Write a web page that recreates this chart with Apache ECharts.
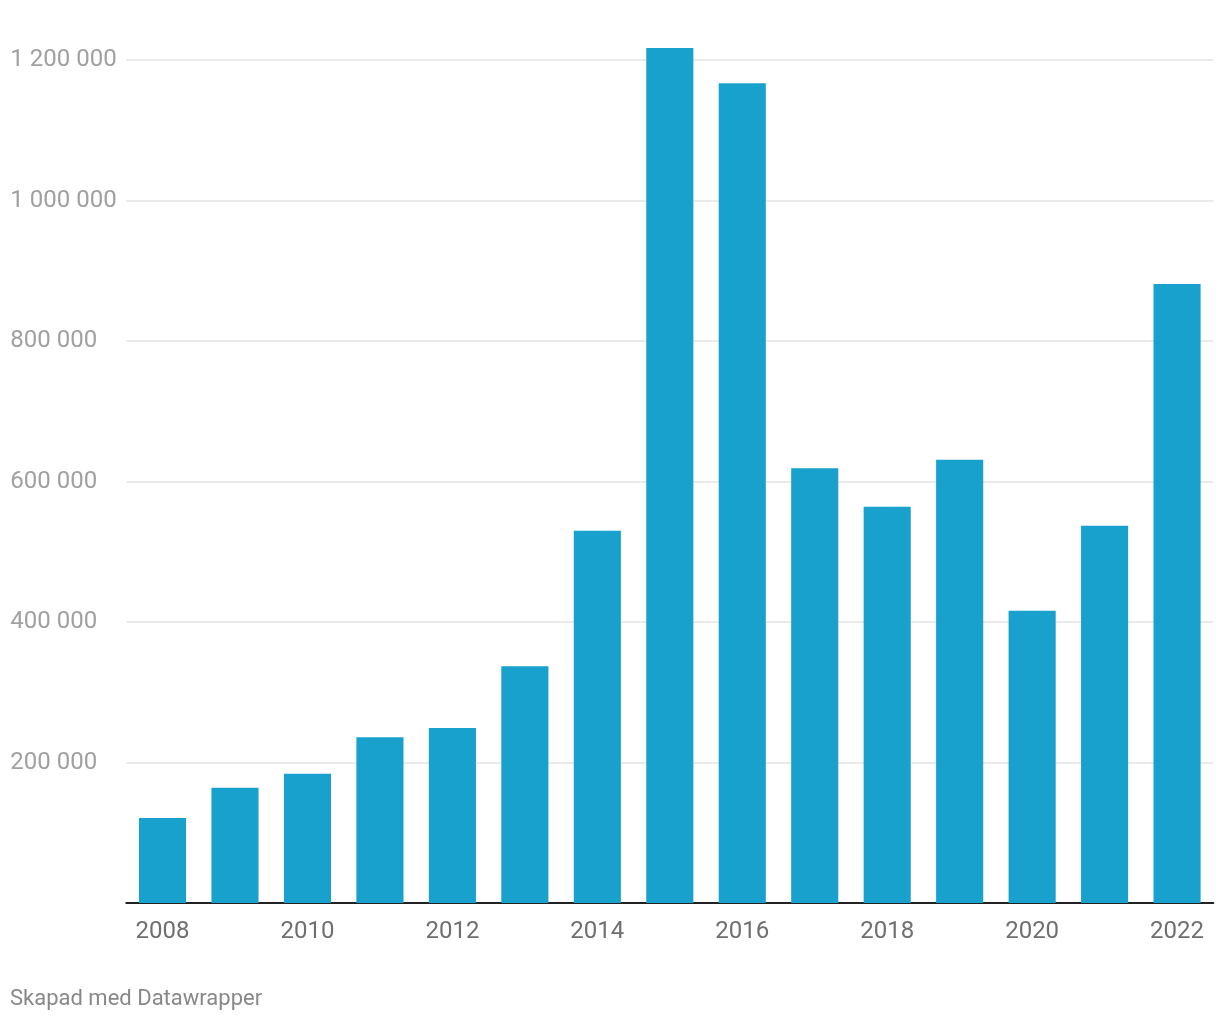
<!DOCTYPE html>
<html>
<head>
<meta charset="utf-8">
<script src="https://cdn.jsdelivr.net/npm/echarts@6/dist/echarts.min.js"></script>
<style>
html,body{margin:0;padding:0;background:#fff;}
#chart{width:1220px;height:1020px;}
</style>
</head>
<body>
<div id="chart"></div>
<script>
const years = ['2008','2009','2010','2011','2012','2013','2014','2015','2016','2017','2018','2019','2020','2021','2022'];
const values = [121000, 164000, 184000, 236000, 249000, 337000, 530000, 1217000, 1167000, 619000, 564000, 631000, 416000, 537000, 881000];
const yTicks = [0, 200000, 400000, 600000, 800000, 1000000, 1200000];
const footer = 'Skapad med Datawrapper';

function fmt(v){
  if (v === 0) return '';
  return String(v).replace(/\B(?=(\d{3})+(?!\d))/g, ' ');
}

const chart = echarts.init(document.getElementById('chart'));
chart.setOption({
  animation: false,
  backgroundColor: '#ffffff',
  textStyle: {fontFamily: 'Roboto'},
  grid: {left: 126.3, right: 6.7, top: 60, bottom: 117, containLabel: false},
  graphic: [{
    type: 'text', left: 10, top: 988,
    style: {text: footer, fill: '#888888', font: '22px Roboto'}
  }],
  xAxis: {
    type: 'category',
    data: years,
    axisLine: {show: true, lineStyle: {color: '#222222', width: 2}},
    axisTick: {show: false},
    axisLabel: {interval: 1, color: '#6f6f6f', fontSize: 24, fontFamily: 'Roboto', margin: 17}
  },
  yAxis: {
    type: 'value',
    min: yTicks[0],
    max: yTicks[yTicks.length - 1],
    interval: 200000,
    axisLine: {show: false},
    axisTick: {show: false},
    splitLine: {show: true, lineStyle: {color: '#e3e3e3', width: 1.5}},
    axisLabel: {
      formatter: fmt, color: '#a0a0a0', fontSize: 24, fontFamily: 'Roboto',
      align: 'left', margin: 116, verticalAlign: 'middle', padding: [8, 0, 0, 0]
    }
  },
  series: [{
    type: 'bar',
    data: values,
    barCategoryGap: '35%',
    clip: false,
    itemStyle: {color: '#18a1cd'}
  }]
});
</script>
</body>
</html>
